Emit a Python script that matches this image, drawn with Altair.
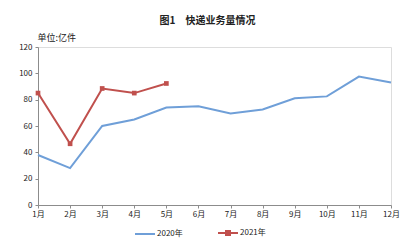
import altair as alt
import pandas as pd

months = ["1月", "2月", "3月", "4月", "5月", "6月", "7月", "8月", "9月", "10月", "11月", "12月"]
values_2020 = [38, 28, 60, 65, 74, 75, 69.5, 72.5, 81, 82.5, 97.5, 93]
values_2021 = [85, 46.5, 88.5, 85, 92.3]
series = ["2020年", "2021年"]
colors = ["#6F9FD8", "#C0504D"]

rows = []
for m, v in zip(months, values_2020):
    rows.append({"month": m, "value": v, "year": series[0]})
for m, v in zip(months, values_2021):
    rows.append({"month": m, "value": v, "year": series[1]})
df = pd.DataFrame(rows)
df21 = df[df["year"] == series[1]]

FONT = "Noto Sans CJK SC"

x = alt.X("month:O", sort=months, scale=alt.Scale(type="point", padding=0),
          axis=alt.Axis(title=None, labelAngle=0, grid=False, domainColor="#8c8c8c",
                        tickColor="#8c8c8c", tickSize=3, labelFontSize=8, labelColor="#222",
                        labelFont=FONT, labelPadding=2))
y = alt.Y("value:Q", scale=alt.Scale(domain=[0, 120]),
          axis=alt.Axis(values=[0, 20, 40, 60, 80, 100, 120], grid=False, domainColor="#8c8c8c",
                        tickColor="#8c8c8c", tickSize=3, labelFontSize=8, labelColor="#222",
                        labelFont=FONT, labelPadding=3,
                        title="单位:亿件", titleAngle=0, titleAlign="left", titleBaseline="bottom",
                        titleX=-1, titleY=-5, titleFontSize=9, titleFontWeight="normal",
                        titleFont=FONT, titleColor="#222"))
color_scale = alt.Scale(domain=series, range=colors)
shape_scale = alt.Scale(domain=series, range=[
    "M-1,0L1,0",
    "M-1,0L1,0M-0.2,-0.2L0.2,-0.2L0.2,0.2L-0.2,0.2ZM-0.9,-0.1L-0.9,0.1M0.9,-0.1L0.9,0.1",
])
leg = alt.Legend(title=None, orient="none", direction="horizontal",
                 legendX=96, legendY=175, symbolSize=400,
                 symbolStrokeWidth=2, symbolOpacity=1,
                 labelFontSize=8, labelFont=FONT, labelColor="#222",
                 labelOffset=1, columnPadding=31)

legend_layer = alt.Chart(df).mark_point(opacity=0, filled=False).encode(
    x=x, y=y,
    color=alt.Color("year:N", scale=color_scale, legend=leg),
    shape=alt.Shape("year:N", scale=shape_scale, legend=leg),
)
lines = alt.Chart(df).mark_line(strokeWidth=2).encode(
    x=x, y=y, color=alt.Color("year:N", scale=color_scale), detail="year:N"
)
pts = alt.Chart(df21).mark_point(shape="square", filled=True, size=22, opacity=1).encode(
    x=x, y=y, color=alt.Color("year:N", scale=color_scale)
)

chart = alt.layer(legend_layer, lines, pts).properties(
    width=353, height=158,
    title=alt.TitleParams("图1　快递业务量情况", anchor="middle", frame="group", dx=-7,
                          offset=7, fontSize=10, fontWeight="bold", font=FONT, color="#222"),
    autosize=alt.AutoSizeParams(type="none"),
    padding={"left": 38, "top": 47, "right": 24, "bottom": 37},
).configure_view(stroke=None).configure(background="white")

chart.save("out.html", embed_options={"renderer": "svg", "actions": False})
